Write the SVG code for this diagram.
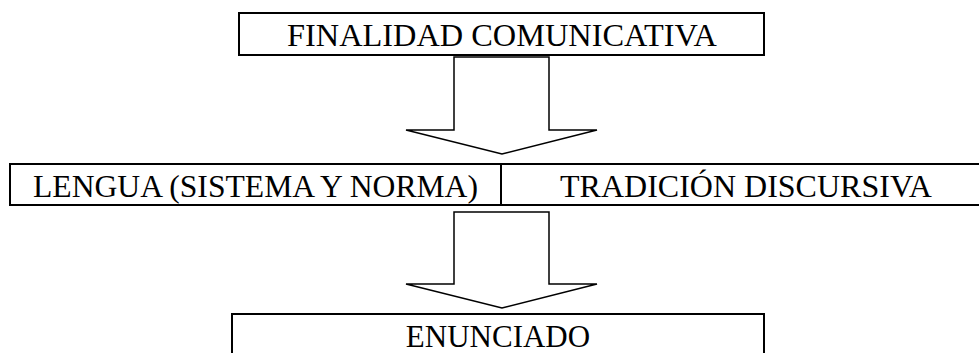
<svg xmlns="http://www.w3.org/2000/svg" width="979" height="353" viewBox="0 0 979 353">
<style>
.box{fill:#fff;stroke:#000;stroke-width:2}
.arrow{fill:#fff;stroke:#000;stroke-width:1.5;stroke-linejoin:miter}
.t{font-family:"Liberation Serif","DejaVu Serif",serif;font-size:31px;fill:#000}
</style>
<rect width="979" height="353" fill="#fff"/>
<g id="connectors">
<polygon class="arrow" points="454,57 549,57 549,130 597,130 502,154 406,130 454,130"/>
<polygon class="arrow" points="454,212 549,212 549,284 597,284 502,308 406,284 454,284"/>
</g>
<g id="finalidad">
<rect class="box" x="239" y="13" width="525" height="42"/>
<text class="t" x="287" y="46" textLength="430" lengthAdjust="spacingAndGlyphs">FINALIDAD COMUNICATIVA</text>
</g>
<g id="lengua">
<rect class="box" x="10" y="164" width="491" height="41"/>
<text class="t" x="33" y="197" textLength="445" lengthAdjust="spacingAndGlyphs">LENGUA (SISTEMA Y NORMA)</text>
</g>
<g id="tradicion">
<rect class="box" x="501" y="164" width="490" height="41"/>
<text class="t" x="560" y="197" textLength="372" lengthAdjust="spacingAndGlyphs">TRADICIÓN DISCURSIVA</text>
</g>
<g id="enunciado">
<rect class="box" x="232" y="314" width="532" height="50"/>
<text class="t" x="498" y="347" text-anchor="middle">ENUNCIADO</text>
</g>
</svg>
